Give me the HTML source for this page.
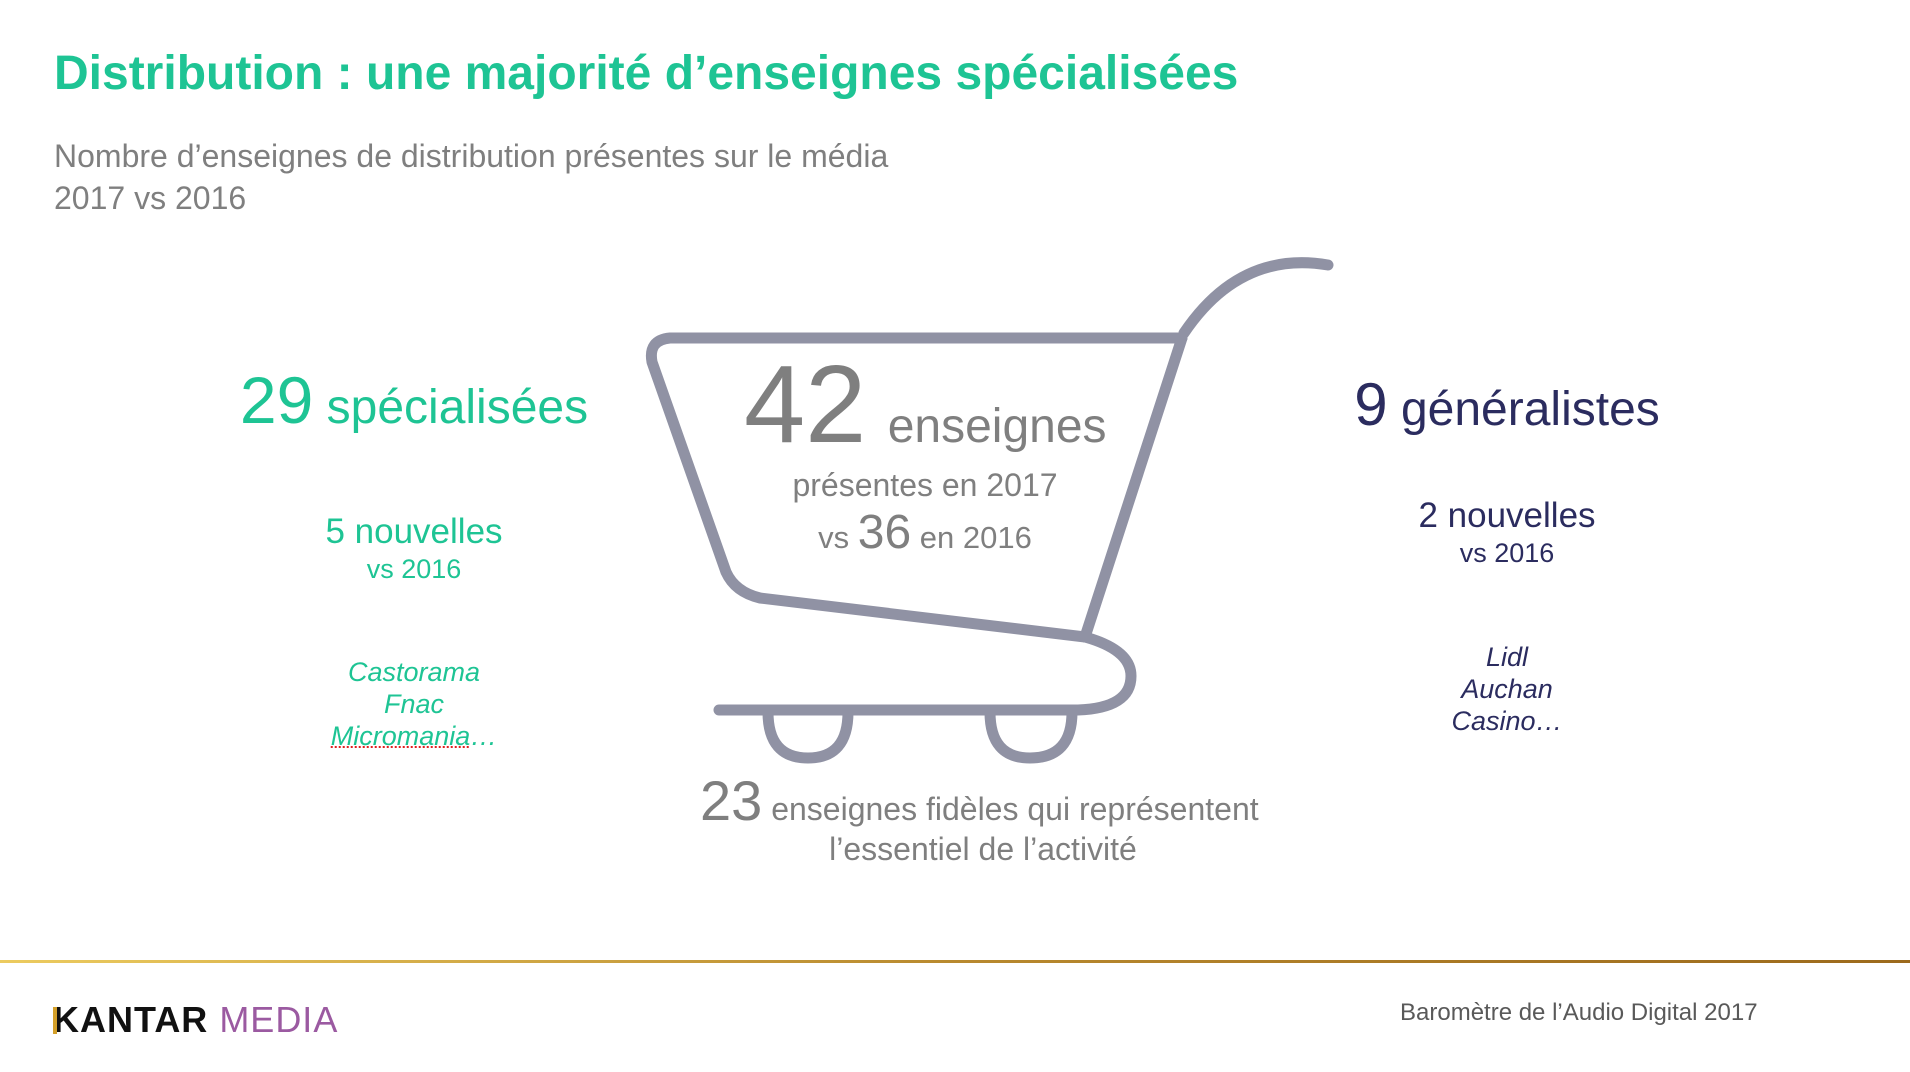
<!DOCTYPE html>
<html><head><meta charset="utf-8"><style>
body{margin:0;width:1910px;height:1072px;background:#fff;font-family:"Liberation Sans",sans-serif;position:relative;overflow:hidden}
.a{position:absolute;white-space:nowrap}
.g{color:#1ec494}.n{color:#2b2c5f}.gr{color:#7f7f7f}
.c{transform:translateX(-50%);text-align:center}
</style></head><body>
<div class="a g" style="left:54px;top:46px;font-size:48px;font-weight:bold">Distribution : une majorité d’enseignes spécialisées</div>
<div class="a gr" style="left:54px;top:135px;font-size:32px;line-height:42px">Nombre d’enseignes de distribution présentes sur le média<br>2017 vs 2016</div>

<svg class="a" style="left:0;top:0" width="1910" height="1072">
<g fill="none" stroke="#9092a4" stroke-width="11" stroke-linecap="round" stroke-linejoin="round">
<path d="M1182,338 L670,338 Q648,340 652,362 L726,572 Q735,592 760,598 L1085,637"/>
<path d="M1182,338 L1085,637"/>
<path d="M1184,333 Q1240,250 1328,265"/>
<path d="M1085,637 Q1131,650 1131,676 Q1131,708 1078,710 L719,710"/>
<path d="M768,712 Q768,758 808,758 Q848,758 848,712"/>
<path d="M990,712 Q990,758 1030,758 Q1072,758 1072,712"/>
</g>
</svg>

<div class="a gr" style="left:744px;top:340px;font-size:110px;line-height:130px"><span style="font-size:110px">42</span><span style="font-size:48px;margin-left:8px"> enseignes</span></div>
<div class="a gr c" style="left:925px;top:467px;font-size:32px">présentes en 2017</div>
<div class="a gr c" style="left:925px;top:505px;font-size:31px">vs <span style="font-size:48px">36</span> en 2016</div>

<div class="a g c" style="left:414px;top:362px;font-size:48px"><span style="font-size:66px">29</span> spécialisées</div>
<div class="a g c" style="left:414px;top:512px;font-size:35px">5 nouvelles</div>
<div class="a g c" style="left:414px;top:554px;font-size:27px">vs 2016</div>
<div class="a g c" style="left:414px;top:656px;font-size:27px;font-style:italic;line-height:32px">Castorama<br>Fnac<br><span style="text-decoration:underline dotted #e02020;text-decoration-thickness:2px">Micromania</span>…</div>

<div class="a n c" style="left:1507px;top:370px;font-size:48px"><span style="font-size:60px">9</span> généralistes</div>
<div class="a n c" style="left:1507px;top:496px;font-size:35px">2 nouvelles</div>
<div class="a n c" style="left:1507px;top:538px;font-size:27px">vs 2016</div>
<div class="a n c" style="left:1507px;top:641px;font-size:27px;font-style:italic;line-height:32px">Lidl<br>Auchan<br>Casino…</div>

<div class="a gr" style="left:700px;top:768px;font-size:32px"><span style="font-size:56px">23</span> enseignes fidèles qui représentent</div>
<div class="a gr c" style="left:983px;top:831px;font-size:32px">l’essentiel de l’activité</div>

<div class="a" style="left:0;top:960px;width:1910px;height:3px;background:linear-gradient(90deg,#eccb5f,#b8892e 50%,#9c6a1c)"></div>
<div class="a" style="left:53px;top:999px;font-size:36px;font-weight:bold;letter-spacing:1px;color:#111">KANTAR <span style="color:#9b5aa1;font-weight:normal">MEDIA</span></div>
<div class="a" style="left:53px;top:1007px;width:4px;height:27px;background:#d4a02a"></div>
<div class="a" style="left:1400px;top:999px;font-size:24px;color:#595959">Baromètre de l’Audio Digital 2017</div>
</body></html>
